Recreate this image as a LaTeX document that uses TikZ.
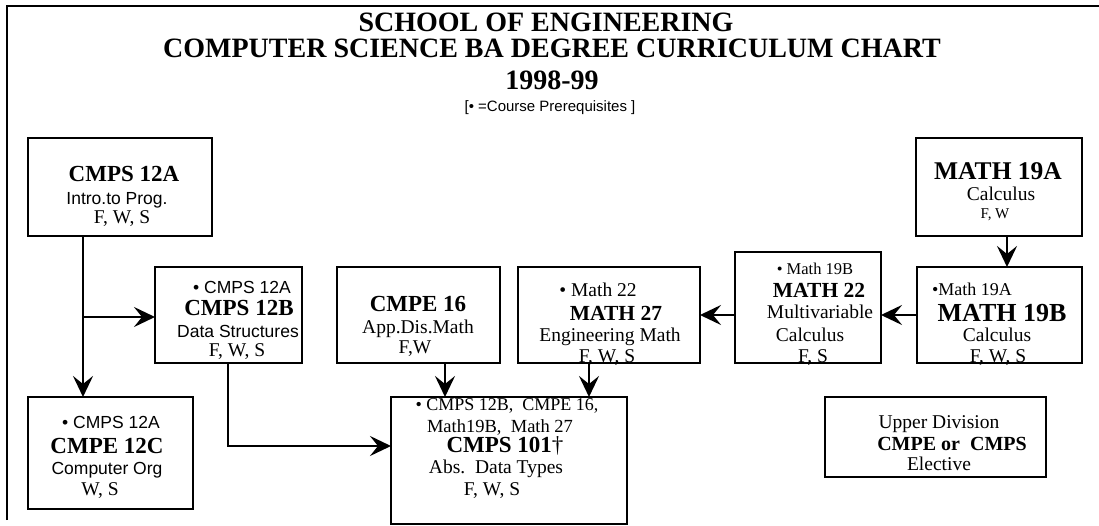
\documentclass[tikz,border=0pt]{standalone}
\usepackage{fontspec}
\setmainfont{Liberation Serif}
\setsansfont{Liberation Sans}
\usetikzlibrary{arrows.meta}
\begin{document}
\begin{tikzpicture}[x=1pt,y=-1pt,
  box/.style={draw, line width=2.4pt, inner sep=0pt, outer sep=0pt, anchor=north west},
  arr/.style={line width=2.6pt, -{Stealth[length=21pt,width=20pt,inset=8pt]}},
  ttl/.style={anchor=base, inner sep=0pt, font=\fontsize{28}{28}\selectfont\bfseries},
  nm/.style={anchor=base, inner sep=0pt, font=\fontsize{23}{23}\selectfont\bfseries},
  lb/.style={anchor=base, inner sep=0pt, font=\fontsize{19.5}{20}\selectfont},
  sf/.style={anchor=base, inner sep=0pt, font=\fontsize{17.5}{18}\selectfont\sffamily}]
\useasboundingbox (0,0) rectangle (1099,526);
% frame
\draw[line width=1.6pt] (7,520) -- (7,6) -- (1099,6);
% title
\node[ttl] (title1) at (546,32) {SCHOOL OF ENGINEERING};
\node[ttl] (title2) at (552,58) {COMPUTER SCIENCE BA DEGREE CURRICULUM CHART};
\node[ttl] (title3) at (552,90) {1998-99};
\node[anchor=base, inner sep=0pt, font=\fontsize{15}{15}\selectfont\sffamily] (legend) at (550,112) {[• =Course Prerequisites ]};
% boxes
\node[box, minimum width=184pt, minimum height=98pt] (c12a) at (28,138) {};
\node[box, minimum width=147pt, minimum height=96pt] (c12b) at (155,267) {};
\node[box, minimum width=163pt, minimum height=96pt] (e16) at (337,267) {};
\node[box, minimum width=182pt, minimum height=96pt] (m27) at (518,267) {};
\node[box, minimum width=146pt, minimum height=111pt] (m22) at (735,252) {};
\node[box, minimum width=165pt, minimum height=96pt] (m19b) at (917,267) {};
\node[box, minimum width=166pt, minimum height=98pt] (m19a) at (916,138) {};
\node[box, minimum width=165pt, minimum height=112pt] (e12c) at (28,397) {};
\node[box, minimum width=236pt, minimum height=127pt] (c101) at (391,397) {};
\node[box, minimum width=221pt, minimum height=80pt] (upd) at (825,397) {};
% CMPS 12A
\node[nm] (t1) at (124,182) {CMPS 12A};
\node[sf] (t2) at (117,205) {Intro.to Prog.};
\node[lb] (t3) at (122,224) {F, W, S};
% CMPS 12B
\node[sf] (t4) at (242,294) {• CMPS 12A};
\node[nm] (t5) at (239,315) {CMPS 12B};
\node[sf] (t6) at (238,337) {Data Structures};
\node[lb] (t7) at (237,356) {F, W, S};
% CMPE 16
\node[nm] (t8) at (418,312) {CMPE 16};
\node[lb] (t9) at (418,333) {App.Dis.Math};
\node[lb] (t10) at (415,353) {F,W};
% MATH 27
\node[lb] (t11) at (598,297) {• Math 22};
\node[nm, font=\fontsize{21.5}{22}\selectfont\bfseries] (t12) at (616,320) {MATH 27};
\node[lb] (t13) at (610,341) {Engineering Math};
\node[lb] (t14) at (607,362) {F, W, S};
% MATH 22
\node[lb, font=\fontsize{16.5}{17}\selectfont] (t15) at (815,275) {• Math 19B};
\node[nm, font=\fontsize{21.5}{22}\selectfont\bfseries] (t16) at (819,298) {MATH 22};
\node[lb] (t17) at (820,319) {Multivariable};
\node[lb] (t18) at (810,341) {Calculus};
\node[lb] (t19) at (813,362) {F, S};
% MATH 19B
\node[lb, font=\fontsize{18}{18}\selectfont] (t20) at (972,296) {•Math 19A};
\node[nm, font=\fontsize{26}{26}\selectfont\bfseries] (t21) at (1002,321) {MATH 19B};
\node[lb] (t22) at (997,341) {Calculus};
\node[lb] (t23) at (998,362) {F, W, S};
% MATH 19A
\node[nm, font=\fontsize{25.5}{26}\selectfont\bfseries] (t24) at (998,180) {MATH 19A};
\node[lb] (t25) at (1001,201) {Calculus};
\node[lb, font=\fontsize{15}{15}\selectfont] (t26) at (995,219) {F, W};
% CMPE 12C
\node[sf] (t27) at (111,428) {• CMPS 12A};
\node[nm] (t28) at (107,453) {CMPE 12C};
\node[sf] (t29) at (107,474) {Computer Org};
\node[lb] (t30) at (100,495) {W, S};
% CMPS 101
\node[lb, font=\fontsize{18}{18}\selectfont] (t31) at (507,410) {• CMPS 12B,\ \ CMPE 16,};
\node[lb, font=\fontsize{18.5}{18}\selectfont] (t32) at (500,432) {Math19B,\ \ Math 27};
\node[nm] (t33) at (505,452) {CMPS 101\textmd{†}};
\node[lb] (t34) at (496,473) {Abs.\ \ Data Types};
\node[lb] (t35) at (492,495) {F, W, S};
% Upper division
\node[lb] (t36) at (939,428) {Upper Division};
\node[nm, font=\fontsize{20}{20}\selectfont\bfseries] (t37) at (952,450) {CMPE or\ \ CMPS};
\node[lb] (t38) at (939,470) {Elective};
% connectors
\coordinate (br) at (83,317);
\coordinate (kb) at (228,446);
\draw[arr] (c12a.south -| br) -- (e12c.north -| br);
\draw[arr] (br) -- (br -| c12b.west);
\draw[arr] (c12b.south -| kb) -- (kb) -- (kb -| c101.west);
\coordinate (k16) at (445,380);
\draw[arr] (e16.south -| k16) -- (c101.north -| k16);
\coordinate (k27) at (589,380);
\draw[arr] (m27.south -| k27) -- (c101.north -| k27);
\coordinate (k19) at (1007,250);
\draw[arr] (m19a.south -| k19) -- (m19b.north -| k19);
\coordinate (kh) at (800,315);
\draw[arr] (m19b.west |- kh) -- (m22.east |- kh);
\draw[arr] (m22.west |- kh) -- (m27.east |- kh);
\end{tikzpicture}
\end{document}
